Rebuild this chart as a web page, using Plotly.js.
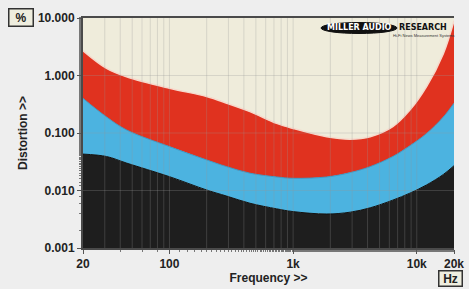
<!DOCTYPE html>
<html><head><meta charset="utf-8">
<script src="https://cdn.plot.ly/plotly-3.0.1.min.js"></script>
<style>html,body{margin:0;padding:0;background:#eeeeee;}#c{width:469px;height:289px;}</style>
</head><body><div id="c"></div>
<script>
const freq = [20, 31, 45, 100, 200, 290, 448, 736, 1000, 1870, 2900, 4200, 6400, 8800, 12000, 16400, 20000];
const blackTop = [0.043, 0.039, 0.030, 0.0174, 0.0102, 0.0080, 0.0060, 0.0048, 0.0043, 0.0039, 0.0042, 0.0050, 0.0068, 0.0090, 0.0125, 0.019, 0.027];
const blueTop = [0.40, 0.19, 0.113, 0.058, 0.034, 0.026, 0.020, 0.0172, 0.0163, 0.0172, 0.0205, 0.026, 0.039, 0.060, 0.098, 0.19, 0.33];
const redTop = [2.7, 1.33, 0.95, 0.60, 0.43, 0.33, 0.235, 0.147, 0.12, 0.086, 0.078, 0.086, 0.129, 0.25, 0.64, 2.4, 9.0];
const xTickVals = [20, 100, 1000, 10000, 20000];
const xTickText = ['20', '100', '1k', '10k', '20k'];
const yTickVals = [0.001, 0.01, 0.1, 1, 10];
const yTickText = ['0.001', '0.010', '0.100', '1.000', '10.000'];

const tf = {family: 'Liberation Sans, Arial, sans-serif', size: 12, color: '#222', weight: 'bold'};

const traces = [
  {x: freq, y: blackTop, type: 'scatter', mode: 'lines', fill: 'tozeroy', fillcolor: '#1e1e1e',
   line: {color: '#111', width: 1, shape: 'spline'}, hoverinfo: 'skip'},
  {x: freq, y: blueTop, type: 'scatter', mode: 'lines', fill: 'tonexty', fillcolor: '#4cb3e0',
   line: {color: '#3a9ac8', width: 1, shape: 'spline'}, hoverinfo: 'skip'},
  {x: freq, y: redTop, type: 'scatter', mode: 'lines', fill: 'tonexty', fillcolor: '#e0321f',
   line: {color: '#f6d9cc', width: 1.5, shape: 'spline'}, hoverinfo: 'skip'}
];

// grid lines drawn above the fills (axis decoration)
const gridCol = 'rgba(150,150,150,0.28)';
const shapes = [];
for (let d = 10; d <= 10000; d *= 10) {
  for (let m = 1; m <= 9; m++) {
    const f = d * m;
    if (f <= 20 || f >= 20000) continue;
    shapes.push({type: 'line', xref: 'x', yref: 'paper', x0: f, x1: f, y0: 0, y1: 1,
      line: {color: gridCol, width: 1}, layer: 'above'});
  }
}
[0.01, 0.1, 1].forEach(v => shapes.push({type: 'line', xref: 'paper', yref: 'y', x0: 0, x1: 1, y0: v, y1: v,
  line: {color: gridCol, width: 1}, layer: 'above'}));
// logo ellipse
shapes.push({type: 'circle', xref: 'paper', yref: 'paper', x0: (321-83)/371, x1: (397-83)/371,
  y0: 1-(33.5-18)/230, y1: 1-(22.5-18)/230, fillcolor: '#111', line: {color: '#111', width: 1}, layer: 'above'});

const logoFont = {family: 'DejaVu Sans, sans-serif', size: 8, weight: 'bold'};
const annotations = [
  {text: '%', xref: 'paper', yref: 'paper', x: (21-83)/371, y: 1+0.5/230, xanchor: 'center', yanchor: 'middle', showarrow: false,
   font: tf, bgcolor: '#efeedf', bordercolor: '#333', borderwidth: 1.5, borderpad: 1, width: 21, height: 14},
  {text: 'Hz', xref: 'paper', yref: 'paper', x: (450-83)/371, y: 1-(278-18)/230, xanchor: 'center', yanchor: 'middle', showarrow: false,
   font: tf, bgcolor: '#efeedf', bordercolor: '#333', borderwidth: 1.5, borderpad: 1, width: 20, height: 12},
  {text: 'MILLER AUDIO', xref: 'paper', yref: 'paper', x: (359-83)/371, y: 1-(28-18)/230, xanchor: 'center', yanchor: 'middle', showarrow: false,
   font: Object.assign({color: '#fff'}, logoFont)},
  {text: 'RESEARCH', xref: 'paper', yref: 'paper', x: (423-83)/371, y: 1-(28-18)/230, xanchor: 'center', yanchor: 'middle', showarrow: false,
   font: Object.assign({color: '#111'}, logoFont)},
  {text: 'Hi-Fi News Measurement Systems', xref: 'paper', yref: 'paper', x: (424-83)/371, y: 1-(35-18)/230, xanchor: 'center', yanchor: 'middle', showarrow: false,
   font: {family: 'Liberation Sans, sans-serif', size: 4, color: '#333'}}
];

const layout = {
  width: 469, height: 289,
  margin: {l: 83, r: 15, t: 18, b: 41, pad: 0},
  paper_bgcolor: '#eeeeee', plot_bgcolor: '#efecdb',
  showlegend: false,
  xaxis: {type: 'log', range: [Math.log10(20), Math.log10(20000)], tickvals: xTickVals, ticktext: xTickText,
    ticks: 'outside', ticklen: 4, tickcolor: '#555', tickfont: tf, showgrid: false, zeroline: false,
    showline: true, mirror: true, linecolor: '#4a4a4a', linewidth: 2,
    minor: {ticks: 'outside', ticklen: 2, tickcolor: '#777', showgrid: false},
    title: {text: 'Frequency >>', font: tf, standoff: 3}},
  yaxis: {type: 'log', range: [-3, 1], tickvals: yTickVals, ticktext: yTickText,
    ticks: 'outside', ticklen: 4, tickcolor: '#555', tickfont: tf, showgrid: false, zeroline: false,
    showline: true, mirror: false, linecolor: '#4a4a4a', linewidth: 2,
    minor: {ticks: 'outside', ticklen: 2, tickcolor: '#777', showgrid: false},
    title: {text: 'Distortion >>', font: tf, standoff: 8}},
  shapes: shapes, annotations: annotations
};

Plotly.newPlot('c', traces, layout, {staticPlot: true, displayModeBar: false});
</script></body></html>
